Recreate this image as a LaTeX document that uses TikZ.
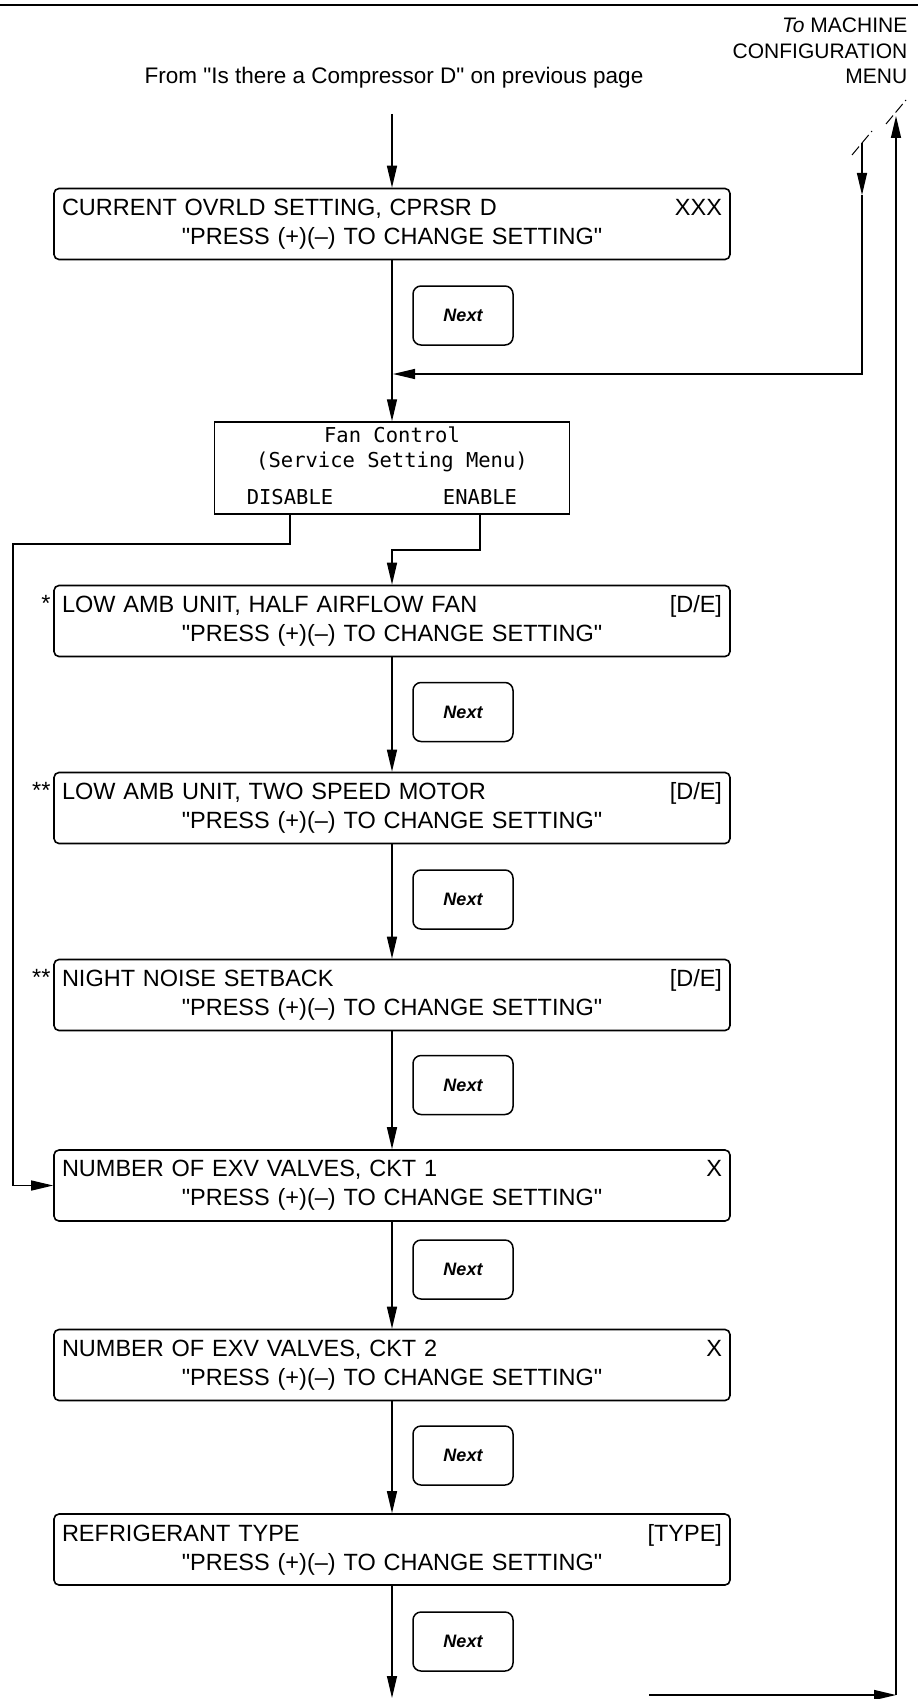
\documentclass[tikz,border=0pt]{standalone}
\usepackage{fontspec}
\setmainfont{Liberation Sans}[Ligatures=TeXOff]
\newfontfamily\lcdfont{DejaVu Sans Mono}
\usetikzlibrary{arrows.meta,positioning,calc}

\tikzset{
  menubox/.style={draw, line width=1.6pt, rounded corners=5pt, minimum width=676pt,
    minimum height=71pt, text width=660pt, align=left, inner xsep=8pt,
    font=\fontsize{23.5}{29}\selectfont},
  nextkey/.style={draw, line width=1.5pt, rounded corners=8pt, minimum width=100pt,
    minimum height=59pt, font=\fontsize{18}{20}\selectfont\bfseries\itshape},
  fanbox/.style={draw, line width=1.5pt, minimum width=355pt, minimum height=92pt},
  lcd/.style={font=\lcdfont\fontsize{20.5}{25}\selectfont},
  star/.style={anchor=east, inner xsep=2pt, font=\fontsize{23.5}{29}\selectfont},
  hdr/.style={anchor=base east, inner sep=0pt, font=\fontsize{21}{25}\selectfont},
  slashmark/.style={line width=1pt, dash pattern=on 11pt off 4pt},
}
\newcommand{\presstxt}{\makebox[\linewidth][c]{"PRESS (+)(–) TO CHANGE SETTING"}}

\begin{document}
\begin{tikzpicture}[x=1pt, y=-1pt, >={Triangle[length=22pt,width=10pt]}, line width=1.4pt]
\useasboundingbox (0,0) rectangle (922,1699);
\draw[line width=2.5pt] (0,5) -- (918,5);

% header texts
\node[hdr] (cfgA) at (908,32.5) {\textit{To} MACHINE};
\node[hdr] (cfgB) at (908,58.5) {CONFIGURATION};
\node[hdr] (cfgC) at (908,83.5) {MENU};
\node[anchor=base, inner sep=0pt, font=\fontsize{22.5}{25}\selectfont] (prevpage) at (394,83.5)
  {From "Is there a Compressor D" on previous page};

% menu boxes
\node[menubox] (ovrld) at (392,224) {CURRENT OVRLD SETTING, CPRSR D\hfill XXX\\\presstxt};
\node[fanbox] (fan) at (392,468) {};
\node[lcd, align=center] (fantitle) at (392,449) {Fan Control\\(Service Setting Menu)};
\node[lcd] (disable) at (290,497) {DISABLE};
\node[lcd] (enable) at (480,497) {ENABLE};
\node[menubox] (lowfan) at (392,621) {LOW AMB UNIT, HALF AIRFLOW FAN\hfill [D/E]\\\presstxt};
\node[menubox] (twospd) at (392,808) {LOW AMB UNIT, TWO SPEED MOTOR\hfill [D/E]\\\presstxt};
\node[menubox] (noise) at (392,995) {NIGHT NOISE SETBACK\hfill [D/E]\\\presstxt};
\node[menubox] (exv1) at (392,1185.5) {NUMBER OF EXV VALVES, CKT 1\hfill X\\\presstxt};
\node[menubox] (exv2) at (392,1365) {NUMBER OF EXV VALVES, CKT 2\hfill X\\\presstxt};
\node[menubox] (reftype) at (392,1549.5) {REFRIGERANT TYPE\hfill [TYPE]\\\presstxt};

\node[star] at ([yshift=-19pt]lowfan.north west) {*};
\node[star] at ([yshift=-19pt]twospd.north west) {**};
\node[star] at ([yshift=-19pt]noise.north west) {**};

% Next keys
\node[nextkey] (next1) at (463,315.5) {Next};
\node[nextkey] (next2) at (463,712) {Next};
\node[nextkey] (next3) at (463,899.5) {Next};
\node[nextkey] (next4) at (463,1085) {Next};
\node[nextkey] (next5) at (463,1269.5) {Next};
\node[nextkey] (next6) at (463,1455.5) {Next};
\node[nextkey] (next7) at (463,1641.5) {Next};

% connectors
\coordinate (inTop) at (392,114);
\coordinate (cfgIn) at (862,143);
\coordinate (cfgTip) at (862,195);
\coordinate (cfgTurn) at (862,374);
\coordinate (join) at (393,374);
\coordinate (disL) at (13,544);
\coordinate (enJog) at (392,550);
\coordinate (endMain) at (392,1698);
\coordinate (retL) at (649,1695);
\coordinate (retR) at (896,1695);
\coordinate (retTop) at (896,116);

\draw[->] (inTop) -- (ovrld);
\draw[->] (ovrld) -- (fan);
\draw[->] (cfgIn) -- (cfgTip);
\draw[->] (cfgTip) -- (cfgTurn) -- (join);
\draw[->] (fan.south -| disable) |- (disL) |- (exv1.west);
\draw[->] (fan.south -| enable) |- (enJog) -- (lowfan);
\draw[->] (lowfan) -- (twospd);
\draw[->] (twospd) -- (noise);
\draw[->] (noise) -- (exv1);
\draw[->] (exv1) -- (exv2);
\draw[->] (exv2) -- (reftype);
\draw[->] (reftype) -- (endMain);
\draw[->] (retL) -- (retR);
\draw[->] (retR) -- (retTop);

\draw[slashmark] (886,124) -- (906,100);
\draw[slashmark] (852,155) -- (872,131);
\end{tikzpicture}
\end{document}
